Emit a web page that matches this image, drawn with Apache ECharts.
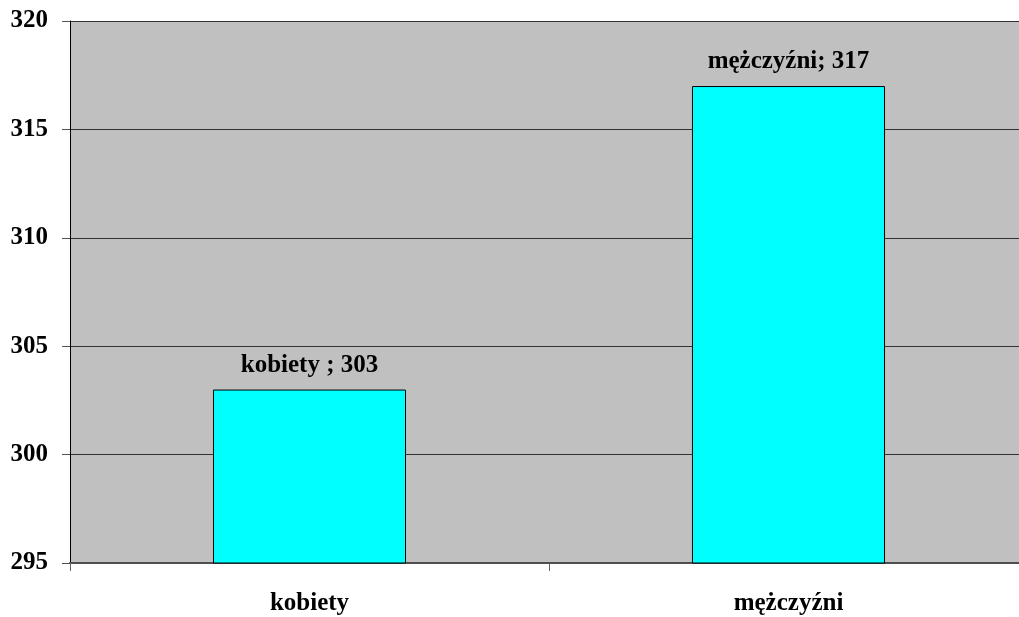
<!DOCTYPE html>
<html>
<head>
<meta charset="utf-8">
<script src="https://cdn.jsdelivr.net/npm/echarts@6/dist/echarts.min.js"></script>
<style>html,body{margin:0;padding:0;background:#fff;overflow:hidden}#c{width:1040px;height:617px}</style>
</head>
<body>
<div id="c"></div>
<script>
const categories = ['kobiety', 'mężczyźni'];
const barLabels = ['kobiety ', 'mężczyźni'];
const values = [303, 317];
const yTicks = [295, 300, 305, 310, 315, 320];

const chart = echarts.init(document.getElementById('c'), null, {renderer: 'canvas'});
const font = '"Liberation Serif", "Times New Roman", serif';
chart.setOption({
  animation: false,
  grid: {left: 70, top: 21, width: 958, height: 542, containLabel: false,
         show: true, backgroundColor: '#C0C0C0', borderWidth: 0},
  xAxis: {
    type: 'category', data: categories,
    axisLine: {show: true, lineStyle: {color: '#4d4d4d', width: 2}},
    axisTick: {show: true, length: 8, lineStyle: {color: '#666', width: 1}},
    axisLabel: {fontFamily: font, fontWeight: 'bold', fontSize: 25, color: '#000', margin: 28}
  },
  yAxis: {
    type: 'value', min: yTicks[0], max: yTicks[yTicks.length - 1], interval: 5,
    axisLine: {show: true, lineStyle: {color: '#000', width: 1}},
    axisTick: {show: true, length: 8, inside: false, lineStyle: {color: '#555'}},
    axisLabel: {fontFamily: font, fontWeight: 'bold', fontSize: 25, color: '#000', margin: 22},
    splitLine: {show: true, lineStyle: {color: '#333', width: 1}}
  },
  series: [{
    type: 'bar',
    data: values,
    barWidth: '40.3%',
    itemStyle: {color: '#00FFFF', borderColor: '#000', borderWidth: 1},
    label: {
      show: true, position: 'top', distance: 12,
      fontFamily: font, fontWeight: 'bold', fontSize: 25, color: '#000',
      formatter: p => barLabels[p.dataIndex] + '; ' + p.value
    }
  }]
});
</script>
</body>
</html>
